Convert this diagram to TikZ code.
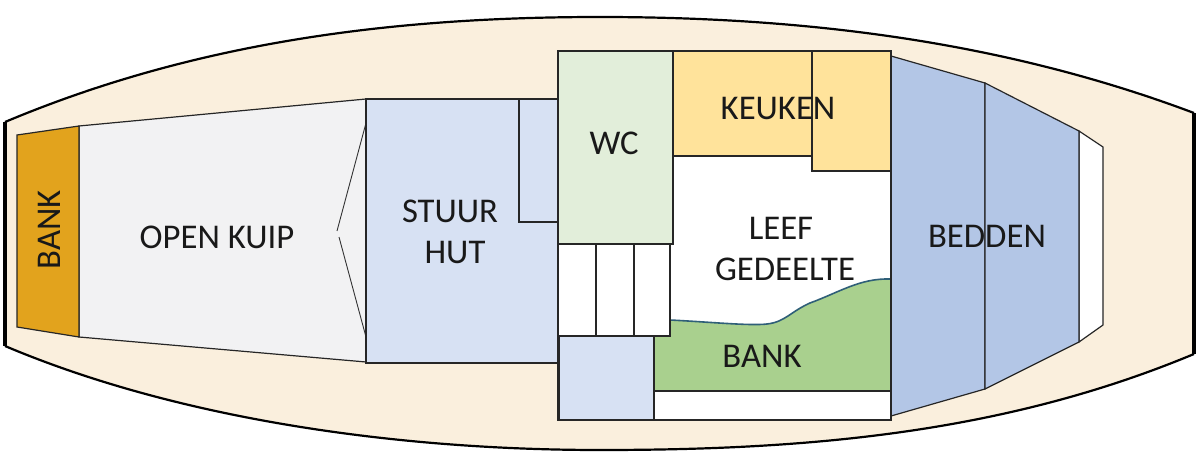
\documentclass[tikz,border=0pt]{standalone}
\usepackage{fontspec}
\setmainfont{Carlito}
\definecolor{hullc}{HTML}{FAEFDD}
\definecolor{bankc}{HTML}{E2A31D}
\definecolor{kuipc}{HTML}{F2F2F3}
\definecolor{hutc}{HTML}{D7E1F3}
\definecolor{wcc}{HTML}{E2EEDA}
\definecolor{keukenc}{HTML}{FFE39B}
\definecolor{greenc}{HTML}{A9D08E}
\definecolor{bedc}{HTML}{B3C6E6}
\definecolor{shorec}{HTML}{2F5F78}
\tikzset{
  room/.style={draw=black!85, line width=1.2pt},
  lbl/.style={font=\fontsize{34.7}{41}\selectfont, text=black!90, inner sep=0pt, align=center}
}

\begin{document}
\begin{tikzpicture}[x=1pt, y=-1pt]
  \useasboundingbox (0,0) rectangle (1204,465);

  % romp
  \coordinate (HLT) at (5,122);
  \coordinate (HLB) at (5,346);
  \coordinate (HRT) at (1194,113);
  \coordinate (HRB) at (1194,354);
  \coordinate (HT) at (600,17);
  \coordinate (HB) at (600,450);
  \fill[hullc] (HLT) .. controls (200,40) and (400,17) .. (HT)
    .. controls (800,17) and (1000,40) .. (HRT) -- (HRB)
    .. controls (1000,435) and (800,450) .. (HB)
    .. controls (400,450) and (180,420) .. (HLB) -- cycle;
  \draw[line width=2.2pt] (HLT) .. controls (200,40) and (400,17) .. (HT)
    .. controls (800,17) and (1000,40) .. (HRT);
  \draw[line width=2.2pt] (HLB) .. controls (180,420) and (400,450) .. (HB)
    .. controls (800,450) and (1000,435) .. (HRB);
  \draw[line width=3.5pt] (HLT) -- (HLB);
  \draw[line width=3.5pt] (HRT) -- (HRB);

  % kuip
  \draw[room, fill=kuipc] (79,126) -- (366,99) -- (366,362) -- (79,337) -- cycle;
  \draw[room, fill=bankc] (17,135) -- (79,126) -- (79,337) -- (17,327) -- cycle;
  \draw[line width=0.9pt, black!80] (366,123) -- (337,231);
  \draw[line width=0.9pt, black!80] (339,237) -- (366,337);

  % stuurhut
  \draw[room, fill=hutc] (366,99) rectangle (558,363);
  \draw[room, fill=hutc] (519,99) rectangle (558,222);

  % bedden
  \draw[room, fill=white] (1079,131) -- (1103,147) -- (1103,325) -- (1079,342) -- cycle;
  \draw[room, fill=bedc] (891,56) -- (985,83) -- (985,389) -- (891,416) -- cycle;
  \draw[room, fill=bedc] (985,83) -- (1079,131) -- (1079,342) -- (985,389) -- cycle;

  % interieur
  \fill[white] (558,51) rectangle (891,420);
  \fill[greenc] (654,391) -- (654,320) -- (670,320) .. controls (710,322) and (750,326) .. (767,324)
    .. controls (785,322) and (790,312) .. (810,303)
    .. controls (840,292) and (860,278) .. (891,279) -- (891,391) -- cycle;
  \draw[shorec, line width=1.6pt] (670,320) .. controls (710,322) and (750,326) .. (767,324)
    .. controls (785,322) and (790,312) .. (810,303)
    .. controls (840,292) and (860,278) .. (891,279);
  \draw[room] (654,391) -- (891,391);
  \draw[room] (558,51) rectangle (891,420);
  \draw[room, fill=keukenc] (673,51) rectangle (812,156);
  \draw[room, fill=keukenc] (812,51) rectangle (891,171);
  \draw[room, fill=wcc] (558,51) rectangle (673,244);
  \draw[room, fill=white] (558,244) rectangle (670,336);
  \draw[room] (596,244) -- (596,336);
  \draw[room] (634,244) -- (634,336);
  \draw[room, fill=hutc] (559,336) rectangle (654,420);

  \node[lbl, rotate=90] (bankl) at (49,230) {BANK};
  \node[lbl] (kuip) at (217,237) {OPEN KUIP};
  \node[lbl] (hut) at (450,232) {STUUR\\\hspace*{10pt}HUT};
  \node[lbl] (wc) at (614,143) {WC};
  \node[lbl] (keuken) at (778,108) {KEUKEN};
  \node[lbl] (leef) at (785,249) {LEEF\hspace*{8pt}\\GEDEELTE};
  \node[lbl] (bankr) at (762,356) {BANK};
  \node[lbl] (bed) at (987,236) {BEDDEN};
\end{tikzpicture}
\end{document}
